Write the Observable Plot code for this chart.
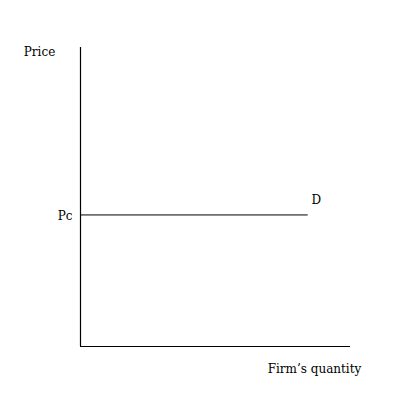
<!DOCTYPE html>
<html><head><meta charset="utf-8">
<script src="https://cdn.jsdelivr.net/npm/d3@7"></script>
<script src="https://cdn.jsdelivr.net/npm/@observablehq/plot@0.6"></script>
<style>body{margin:0;background:#fff}</style>
</head><body><div id="chart"></div>
<script>
const priceLevel = 44;          // Pc
const demandQuantity = [0, 84]; // horizontal demand curve extent
const axisLabels = {y: "Price", x: "Firm\u2019s quantity"};
const curveLabel = "D";
const priceLabel = "Pc";

const demand = demandQuantity.map(q => ({q, p: priceLevel}));
const font = "'DejaVu Serif', serif";

const chart = Plot.plot({
  width: 400, height: 400,
  marginLeft: 80, marginRight: 50, marginTop: 47, marginBottom: 54,
  x: {domain: [0, 100], axis: null},
  y: {domain: [0, 100], axis: null},
  style: {fontFamily: font, fontSize: "12px", color: "#000", background: "#fff"},
  marks: [
    Plot.ruleX([0], {y1: 0, y2: 100, stroke: "#000", strokeWidth: 1.2}),
    Plot.ruleY([0], {x1: 0, x2: 100, stroke: "#000", strokeWidth: 1.2}),
    Plot.line(demand, {x: "q", y: "p", stroke: "#000", strokeWidth: 1}),
    Plot.text([curveLabel], {x: demandQuantity[1], y: priceLevel, text: d => d, dx: 9, dy: -15, fontSize: 12}),
    Plot.text([priceLabel], {x: 0, y: priceLevel, text: d => d, textAnchor: "end", dx: -8, dy: 1, fontSize: 12}),
    Plot.text([axisLabels.y], {x: 0, y: 100, text: d => d, dx: -41, dy: 5, fontSize: 12}),
    Plot.text([axisLabels.x], {x: 100, y: 0, text: d => d, dx: -36, dy: 23, fontSize: 12})
  ]
});
document.getElementById("chart").appendChild(chart);
</script></body></html>
